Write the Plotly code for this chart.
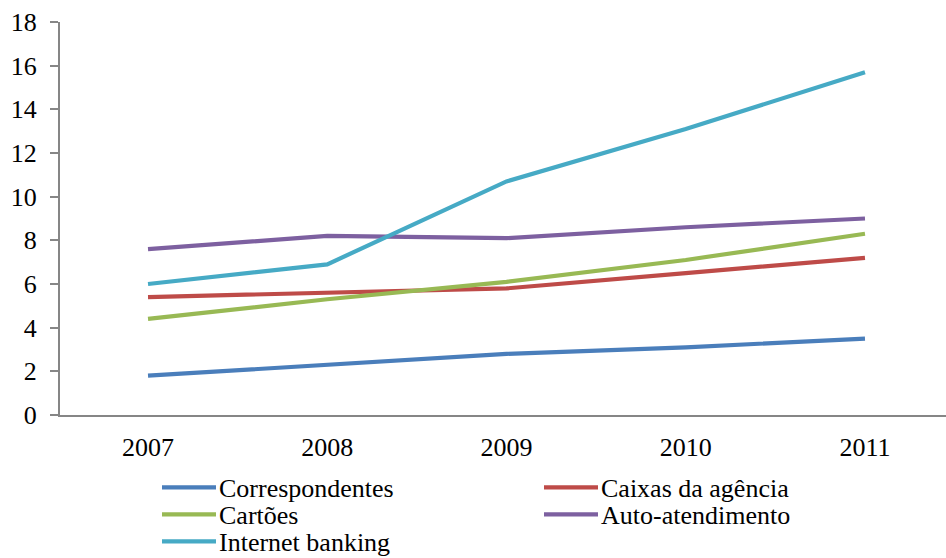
import plotly.graph_objects as go

years = ["2007", "2008", "2009", "2010", "2011"]
correspondentes = [1.8, 2.3, 2.8, 3.1, 3.5]
caixas_agencia = [5.4, 5.6, 5.8, 6.5, 7.2]
cartoes = [4.4, 5.3, 6.1, 7.1, 8.3]
auto_atendimento = [7.6, 8.2, 8.1, 8.6, 9.0]
internet_banking = [6.0, 6.9, 10.7, 13.1, 15.7]

series_names = ["Correspondentes", "Caixas da agência", "Cartões",
                "Auto-atendimento", "Internet banking"]
series_values = [correspondentes, caixas_agencia, cartoes,
                 auto_atendimento, internet_banking]
series_colors = ["#4A7EBB", "#BE4B48", "#98B954", "#7D60A0", "#46AAC5"]

FONT = "Liberation Serif"
FONT_SIZE = 26
W, H = 946, 558
M_L, M_R, M_T, M_B = 60, 0, 22, 142.5

fig = go.Figure()
for name, vals, color in zip(series_names, series_values, series_colors):
    fig.add_trace(go.Scatter(
        x=list(range(len(years))), y=vals, name=name, mode="lines",
        line=dict(color=color, width=4.2), showlegend=False,
    ))

# Two-column legend below the plot, laid out in pixel positions
plot_w = W - M_L - M_R
plot_h = H - M_T - M_B


def px_to_paper_x(px):
    return (px - M_L) / plot_w


def px_to_paper_y(py):
    return (H - M_B - py) / plot_h


col_x = [162, 544]
row_y = [488, 515, 542]
shapes = []
annotations = []
for i, (name, color) in enumerate(zip(series_names, series_colors)):
    cx = col_x[i % 2]
    ry = row_y[i // 2]
    shapes.append(dict(
        type="line", xref="paper", yref="paper",
        x0=px_to_paper_x(cx), x1=px_to_paper_x(cx + 54),
        y0=px_to_paper_y(ry), y1=px_to_paper_y(ry),
        line=dict(color=color, width=4.2),
    ))
    annotations.append(dict(
        text=name, xref="paper", yref="paper",
        x=px_to_paper_x(cx + 55), y=px_to_paper_y(ry + 1),
        xanchor="left", yanchor="middle", showarrow=False,
        font=dict(family=FONT, size=FONT_SIZE, color="black"),
    ))

fig.update_layout(
    width=W, height=H,
    margin=dict(l=M_L, r=M_R, t=M_T, b=M_B, autoexpand=False),
    paper_bgcolor="white", plot_bgcolor="white",
    font=dict(family=FONT, size=FONT_SIZE, color="black"),
    showlegend=False,
    shapes=shapes,
    annotations=annotations,
    xaxis=dict(
        range=[-0.491, 4.452], tickmode="array",
        tickvals=list(range(len(years))), ticktext=years,
        showgrid=False, zeroline=False, showline=True,
        linecolor="#868686", linewidth=2, ticks="",
        ticklabelstandoff=8, fixedrange=True,
        tickfont=dict(family=FONT, size=FONT_SIZE, color="black"),
    ),
    yaxis=dict(
        range=[0, 18], tickmode="linear", tick0=0, dtick=2,
        showgrid=False, zeroline=False, showline=True,
        linecolor="#868686", linewidth=2, ticks="outside",
        ticklen=8, tickwidth=2, tickcolor="#868686",
        ticklabelstandoff=8, fixedrange=True,
        tickfont=dict(family=FONT, size=FONT_SIZE, color="black"),
    ),
)

fig.write_html("out.html")
